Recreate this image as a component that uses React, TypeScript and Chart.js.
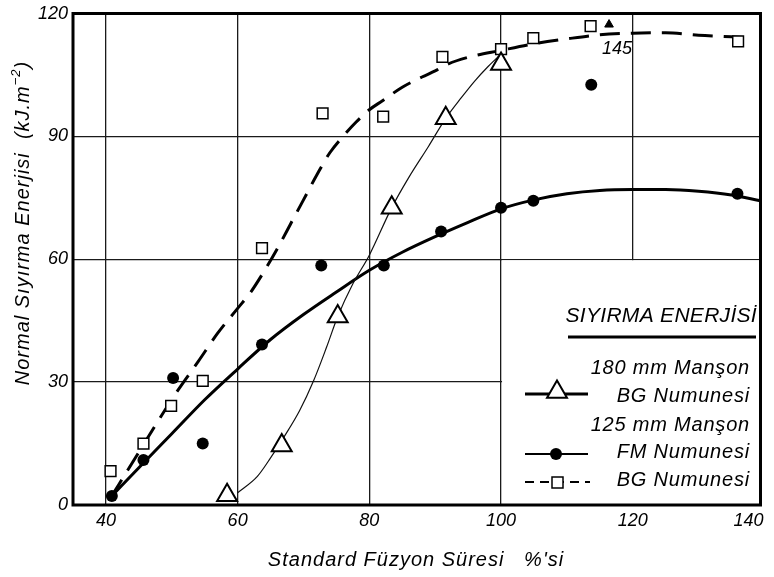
import React, { useEffect, useRef } from 'react';
import { Chart, registerables } from 'chart.js';

Chart.register(...registerables);

// ---- tick labels ----
const xTickValues = [40, 60, 80, 100, 120, 140];
const yTickValues = [0, 30, 60, 90, 120];

// ---- texts ----
const xTitle = "Standard Füzyon Süresi   %'si";
const yTitleMain = 'Normal Sıyırma Enerjisi  (kJ.m';
const yTitleSup = '−2';
const yTitleTail = ')';
const legendTitle = 'SIYIRMA ENERJİSİ';
const legendGroup1 = '180 mm Manşon';
const legendGroup2 = '125 mm Manşon';
const labelTri = 'BG Numunesi';
const labelFM = 'FM Numunesi';
const labelSq = 'BG Numunesi';

// ---- 180 mm Manşon, BG Numunesi (triangles) ----
const triX = [58.4, 66.7, 75.2, 83.4, 91.6, 100];
const triY = [2.4, 14.5, 46, 72.6, 94.4, 107.7];
const triCurveX = [60, 63, 65, 67, 69.4, 71.5, 73.5, 75.2, 77.5, 80, 83.4, 86, 89, 91.6, 94, 96, 98, 99.6];
const triCurveY = [3, 7, 11.5, 16.5, 23, 30.2, 38.5, 46, 54, 61, 72.6, 80, 87.6, 94.4, 99.5, 103.5, 107, 109.5];

// ---- 125 mm Manşon, FM Numunesi (filled circles) ----
const fmX = [40.9, 45.7, 50.2, 54.7, 63.7, 72.7, 82.2, 90.9, 100, 104.9, 113.7, 135.9];
const fmY = [2.2, 11, 31, 15, 39.2, 58.5, 58.5, 66.8, 72.6, 74.3, 102.6, 76];
const fmCurveX = [41, 45, 50, 55, 60, 65, 70, 75, 80, 85, 90, 95, 100, 105, 110, 115, 120, 125, 130, 135, 139.4];
const fmCurveY = [2.4, 9.1, 17.4, 25.7, 33.2, 40.4, 46.5, 52, 57.3, 61.7, 65.5, 69, 72.3, 74.5, 76, 76.8, 77, 77, 76.6, 75.7, 74.3];

// ---- 125 mm Manşon, BG Numunesi (open squares) ----
const sqX = [40.7, 45.7, 49.9, 54.7, 63.7, 72.9, 82.1, 91.1, 100, 104.9, 113.6, 136];
const sqY = [8.3, 15, 24.2, 30.3, 62.7, 95.6, 94.8, 109.4, 111.3, 114, 116.9, 113.2];
const sqCurveX = [40.8, 44.5, 47.5, 50.5, 54, 57, 60, 62, 64, 66, 68, 70, 72, 74, 76, 78, 80, 82, 85, 88, 90, 92, 95, 100, 105, 110, 115, 120, 125, 130, 135, 138];
const sqCurveY = [2, 11.6, 19.4, 27, 35, 42, 48, 52, 57, 62.5, 68.5, 74.5, 80.5, 86, 90, 93.5, 96.5, 98.7, 102, 104.5, 106, 107.7, 109.3, 111, 112.6, 113.8, 114.8, 115.2, 115.3, 114.7, 114.3, 114];

// ---- off-scale point annotation ----
const offScaleX = [116.4];
const offScaleY = [117.3];
const offScaleLabel = '145';

const zip = (xs: number[], ys: number[]) => xs.map((x, i) => ({ x, y: ys[i] }));

const FONT = '"Liberation Sans", Arial, sans-serif';
const NARROW = '"Liberation Sans Narrow", "Liberation Sans", Arial, sans-serif';

const overlayPlugin = {
  id: 'overlay',
  beforeDatasetsDraw(chart: any) {
    const { ctx, chartArea, scales } = chart;
    const l = scales.x.getPixelForValue(100) + 1;
    const t = scales.y.getPixelForValue(60) + 1;
    ctx.save();
    ctx.fillStyle = '#fff';
    ctx.fillRect(l, t, chartArea.right - l, chartArea.bottom - t);
    ctx.restore();
  },
  afterDraw(chart: any) {
    const { ctx, chartArea, scales } = chart;
    const xs = scales.x;
    const ys = scales.y;
    ctx.save();
    // frame
    ctx.strokeStyle = '#000';
    ctx.lineWidth = 3;
    ctx.strokeRect(chartArea.left, chartArea.top, chartArea.right - chartArea.left, chartArea.bottom - chartArea.top);

    // x tick labels
    ctx.fillStyle = '#000';
    ctx.font = `italic 18px ${NARROW}`;
    ctx.textAlign = 'center';
    ctx.textBaseline = 'middle';
    xTickValues.forEach((v) => {
      let px = xs.getPixelForValue(v);
      px = Math.min(px, chartArea.right - 12);
      ctx.fillText(String(v), px, chartArea.bottom + 16);
    });

    // x title
    ctx.font = `italic 20px ${FONT}`;
    (ctx as any).letterSpacing = '1px';
    ctx.fillText(xTitle, 416, 560);

    // y title
    ctx.save();
    ctx.translate(23, 223);
    ctx.rotate(-Math.PI / 2);
    ctx.textAlign = 'left';
    ctx.font = `italic 20px ${FONT}`;
    const w1 = ctx.measureText(yTitleMain).width;
    ctx.font = `italic 13px ${FONT}`;
    const w2 = ctx.measureText(yTitleSup).width;
    ctx.font = `italic 20px ${FONT}`;
    const w3 = ctx.measureText(yTitleTail).width;
    const start = -(w1 + w2 + w3) / 2;
    ctx.fillText(yTitleMain, start, 0);
    ctx.font = `italic 13px ${FONT}`;
    ctx.fillText(yTitleSup, start + w1, -7);
    ctx.font = `italic 20px ${FONT}`;
    ctx.fillText(yTitleTail, start + w1 + w2, 0);
    ctx.restore();

    // 145 annotation
    (ctx as any).letterSpacing = '0px';
    ctx.font = `italic 18px ${NARROW}`;
    ctx.textAlign = 'center';
    const ax = xs.getPixelForValue(offScaleX[0]);
    const ay = ys.getPixelForValue(offScaleY[0]);
    ctx.fillText(offScaleLabel, ax + 8, ay + 24);

    // legend
    ctx.textAlign = 'right';
    ctx.font = `italic 21px ${FONT}`;
    (ctx as any).letterSpacing = '0.3px';
    ctx.fillText(legendTitle, 757, 316);
    ctx.lineWidth = 3;
    ctx.beginPath();
    ctx.moveTo(568, 337);
    ctx.lineTo(756, 337);
    ctx.stroke();

    ctx.font = `italic 20px ${FONT}`;
    (ctx as any).letterSpacing = '0.8px';
    ctx.fillText(legendGroup1, 750, 368);
    ctx.fillText(labelTri, 750, 396);
    ctx.fillText(legendGroup2, 750, 425);
    ctx.fillText(labelFM, 750, 452);
    ctx.fillText(labelSq, 750, 480);

    // sample: triangle
    ctx.lineWidth = 3;
    ctx.beginPath();
    ctx.moveTo(525, 394);
    ctx.lineTo(588, 394);
    ctx.stroke();
    const r = 11.5;
    const tcx = 557, tcy = 392;
    ctx.beginPath();
    ctx.moveTo(tcx, tcy - r);
    ctx.lineTo(tcx - r * 0.866, tcy + r / 2);
    ctx.lineTo(tcx + r * 0.866, tcy + r / 2);
    ctx.closePath();
    ctx.fillStyle = '#fff';
    ctx.fill();
    ctx.lineWidth = 2;
    ctx.stroke();

    // sample: FM
    ctx.fillStyle = '#000';
    ctx.lineWidth = 2;
    ctx.beginPath();
    ctx.moveTo(525, 454);
    ctx.lineTo(588, 454);
    ctx.stroke();
    ctx.beginPath();
    ctx.arc(556, 454, 6, 0, Math.PI * 2);
    ctx.fill();

    // sample: BG dashed
    ctx.setLineDash([9, 6]);
    ctx.beginPath();
    ctx.moveTo(525, 482);
    ctx.lineTo(590, 482);
    ctx.stroke();
    ctx.setLineDash([]);
    ctx.fillStyle = '#fff';
    ctx.fillRect(552, 477, 11, 11);
    ctx.lineWidth = 1.5;
    ctx.strokeRect(552, 477, 11, 11);

    ctx.restore();
  },
};

export default function App() {
  const ref = useRef<HTMLCanvasElement>(null);

  useEffect(() => {
    const canvas = ref.current;
    if (!canvas) return;
    const chart = new Chart(canvas, {
      type: 'scatter',
      data: {
        datasets: [
          {
            label: 'off-scale',
            data: zip(offScaleX, offScaleY),
            showLine: false,
            pointStyle: 'triangle',
            pointRotation: 0,
            pointRadius: 5,
            backgroundColor: '#000',
            borderColor: '#000',
            borderWidth: 1,
          },
          {
            label: '180 mm BG',
            data: zip(triX, triY),
            showLine: false,
            pointStyle: 'triangle',
            pointRadius: 11.5,
            backgroundColor: '#fff',
            borderColor: '#000',
            borderWidth: 2,
          },
          {
            label: '125 mm FM',
            data: zip(fmX, fmY),
            showLine: false,
            pointStyle: 'circle',
            pointRadius: 6,
            backgroundColor: '#000',
            borderColor: '#000',
            borderWidth: 0,
          },
          {
            label: '125 mm BG',
            data: zip(sqX, sqY),
            showLine: false,
            pointStyle: 'rect',
            pointRadius: 7.6,
            backgroundColor: '#fff',
            borderColor: '#000',
            borderWidth: 1.5,
          },
          {
            label: 'tri curve',
            data: zip(triCurveX, triCurveY),
            showLine: true,
            pointRadius: 0,
            borderColor: '#111',
            borderWidth: 1.2,
            tension: 0.4,
            cubicInterpolationMode: 'monotone',
          } as any,
          {
            label: 'fm curve',
            data: zip(fmCurveX, fmCurveY),
            showLine: true,
            pointRadius: 0,
            borderColor: '#000',
            borderWidth: 3,
            tension: 0.4,
            cubicInterpolationMode: 'monotone',
          } as any,
          {
            label: 'sq curve',
            data: zip(sqCurveX, sqCurveY),
            showLine: true,
            pointRadius: 0,
            borderColor: '#000',
            borderWidth: 3,
            borderDash: [20, 11],
            tension: 0.4,
            cubicInterpolationMode: 'monotone',
          } as any,
        ],
      },
      options: {
        responsive: false,
        animation: false,
        events: [],
        devicePixelRatio: 1,
        layout: { padding: { left: 0, right: 4, top: 9, bottom: 0 } },
        plugins: { legend: { display: false }, tooltip: { enabled: false } },
        scales: {
          x: {
            type: 'linear',
            min: 35,
            max: 139.4,
            afterBuildTicks: (s: any) => {
              s.ticks = xTickValues.filter((v) => v > s.min && v < s.max).map((v) => ({ value: v }));
            },
            afterFit: (s: any) => {
              s.height = 72;
              s.paddingLeft = 0;
              s.paddingRight = 0;
            },
            ticks: { display: false },
            grid: { color: '#1a1a1a', lineWidth: 1.3, drawTicks: false },
            border: { display: false },
          },
          y: {
            type: 'linear',
            min: 0,
            max: 120,
            afterBuildTicks: (s: any) => {
              s.ticks = yTickValues.map((v) => ({ value: v }));
            },
            afterFit: (s: any) => {
              s.width = 73;
              s.paddingTop = 0;
              s.paddingBottom = 0;
            },
            ticks: {
              color: '#000',
              padding: 5,
              font: { family: NARROW, size: 18, style: 'italic' },
              callback: (v: any) => String(v),
            },
            grid: { color: '#1a1a1a', lineWidth: 1.3, drawTicks: false },
            border: { display: false },
          },
        },
      },
      plugins: [overlayPlugin],
    } as any);
    return () => chart.destroy();
  }, []);

  return (
    <div style={{ position: 'fixed', left: 0, top: 0, width: 774, height: 577, background: '#fff' }}>
      <canvas ref={ref} width={774} height={577} style={{ display: 'block', width: 774, height: 577 }} />
    </div>
  );
}
